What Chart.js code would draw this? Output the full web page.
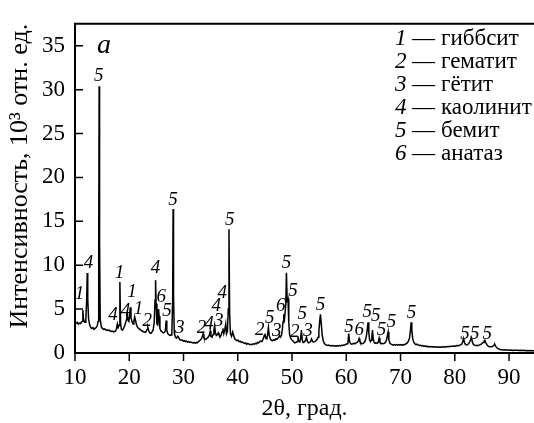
<!DOCTYPE html>
<html>
<head>
<meta charset="utf-8">
<script src="https://cdn.jsdelivr.net/npm/chart.js@4"></script>
<style>
  html, body { margin: 0; padding: 0; background: #fff; }
  #wrap { width: 534px; height: 423px; }
</style>
</head>
<body>
<div id="wrap"><canvas id="xrd" width="534" height="423"></canvas></div>
<script>
// XRD pattern, sample "a": [2theta, intensity x10^3]
const scan10to20 = [
  [10.0,3.6],[10.2,3.4],[10.4,3.5],[10.6,3.3],[10.8,3.4],[11.0,3.35],[11.15,3.5],[11.3,3.6],[11.45,4.9],[11.55,3.9],
  [11.7,3.6],[11.85,3.5],[12.0,3.8],[12.15,6.0],[12.25,9.1],[12.35,6.2],[12.5,3.9],[12.7,3.2],[12.9,2.9],[13.1,2.8],
  [13.3,2.9],[13.5,2.7],[13.7,2.8],[13.9,2.9],[14.1,3.1],[14.25,3.6],[14.37,12.0],[14.45,30.4],[14.53,12.5],[14.65,3.8],
  [14.85,3.0],[15.05,2.8],[15.3,2.7],[15.5,2.75],[15.7,2.6],[15.9,2.65],[16.1,2.55],[16.3,2.6],[16.5,2.5],[16.7,2.45],
  [16.9,2.5],[17.1,2.4],[17.3,2.45],[17.5,2.5],[17.65,2.8],[17.8,3.3],[17.95,2.9],[18.15,3.2],[18.27,8.1],[18.4,3.4],
  [18.55,2.7],[18.75,2.6],[18.95,2.8],[19.15,3.1],[19.35,3.5],[19.5,3.8],[19.65,4.4],[19.8,3.7],[19.92,3.6]
]
const scan20to30 = [
  [20.05,4.1],[20.18,5.2],[20.32,4.0],[20.5,3.6],[20.7,3.3],[20.85,3.6],[21.0,4.1],[21.15,3.7],[21.35,3.2],[21.55,2.9],
  [21.75,2.8],[21.95,2.7],[22.15,2.6],[22.35,2.5],[22.55,2.45],[22.75,2.4],[22.95,2.35],[23.15,2.5],[23.3,2.7],[23.43,2.9],
  [23.6,2.5],[23.8,2.3],[24.0,2.25],[24.2,2.4],[24.4,2.6],[24.6,3.5],[24.75,6.0],[24.85,8.3],[24.95,5.6],[25.1,3.3],
  [25.25,3.2],[25.4,5.0],[25.5,4.2],[25.65,2.8],[25.85,2.5],[26.05,2.4],[26.25,2.3],[26.45,2.35],[26.65,2.5],[26.8,3.7],
  [26.92,2.6],[27.1,2.2],[27.3,2.1],[27.5,2.0],[27.7,2.05],[27.85,2.3],[28.0,6.0],[28.08,16.4],[28.16,6.5],[28.3,2.3],
  [28.5,1.8],[28.7,1.7],[28.95,1.9],[29.15,1.7],[29.35,1.5],[29.55,1.45],[29.75,1.5],[29.95,1.35]
]
const scan30to50 = [
  [30.15,1.4],[30.35,1.3],[30.55,1.35],[30.75,1.25],[30.95,1.3],[31.15,1.2],[31.35,1.25],[31.55,1.2],[31.75,1.15],[31.95,1.2],
  [32.15,1.1],[32.35,1.2],[32.55,1.15],[32.75,1.3],[32.95,1.4],[33.15,1.5],[33.35,1.7],[33.5,1.9],[33.6,2.2],[33.75,1.8],
  [33.95,1.6],[34.15,1.55],[34.35,1.7],[34.55,1.8],[34.75,2.0],[34.92,2.5],[35.05,1.9],[35.25,1.8],[35.45,2.1],[35.6,2.6],
  [35.74,3.1],[35.88,2.3],[36.05,2.0],[36.25,2.1],[36.4,2.3],[36.53,2.1],[36.7,1.8],[36.9,2.0],[37.1,2.4],[37.27,2.8],
  [37.42,2.2],[37.6,2.6],[37.78,3.3],[37.92,2.2],[38.1,2.5],[38.25,5.0],[38.38,14.1],[38.5,4.5],[38.65,2.2],[38.85,1.9],
  [39.05,2.4],[39.25,2.0],[39.45,1.6],[39.65,1.5],[39.85,1.4],[40.05,1.45],[40.25,1.3],[40.45,1.35],[40.65,1.2],[40.85,1.25],
  [41.05,1.15],[41.25,1.1],[41.45,1.15],[41.65,1.0],[41.85,1.1],[42.05,1.0],[42.25,0.95],[42.45,1.0],[42.65,0.95],[42.85,1.05],
  [43.05,1.0],[43.25,1.1],[43.45,1.05],[43.65,1.2],[43.85,1.15],[44.05,1.3],[44.25,1.35],[44.45,1.3],[44.6,1.5],[44.75,1.7],
  [44.88,2.0],[45.0,2.2],[45.15,1.7],[45.35,1.6],[45.5,2.1],[45.65,2.9],[45.8,2.0],[46.0,1.6],[46.2,1.45],[46.4,1.4],
  [46.6,1.5],[46.8,1.45],[47.0,1.6],[47.2,1.55],[47.4,1.7],[47.55,1.8],[47.7,2.0],[47.85,1.8],[48.05,2.0],[48.2,2.6],
  [48.35,3.6],[48.48,4.4],[48.62,3.9],[48.85,5.5],[48.97,9.15],[49.1,6.0],[49.26,6.2],[49.4,3.5],[49.55,2.1],[49.75,1.7],
  [49.95,1.5]
]
const scan50to70 = [
  [50.15,1.4],[50.35,1.25],[50.55,1.15],[50.75,1.2],[50.95,1.3],[51.1,1.9],[51.25,1.3],[51.45,1.25],[51.6,1.7],[51.73,2.6],
  [51.88,1.5],[52.05,1.2],[52.25,1.25],[52.45,1.4],[52.66,1.8],[52.85,1.3],[53.05,1.15],[53.25,1.2],[53.45,1.35],[53.6,1.6],
  [53.8,1.3],[54.0,1.25],[54.2,1.3],[54.4,1.4],[54.6,1.5],[54.8,1.8],[54.95,2.5],[55.1,3.6],[55.24,4.4],[55.38,3.4],
  [55.55,2.1],[55.75,1.4],[55.95,1.1],[56.15,0.95],[56.35,0.9],[56.55,0.85],[56.75,0.9],[56.95,0.82],[57.15,0.85],[57.35,0.8],
  [57.55,0.85],[57.75,0.8],[57.95,0.82],[58.15,0.78],[58.35,0.85],[58.55,0.8],[58.75,0.85],[58.95,0.82],[59.15,0.88],[59.35,0.85],
  [59.55,0.9],[59.75,0.92],[59.95,1.0],[60.15,1.05],[60.3,1.2],[60.46,2.2],[60.6,1.3],[60.8,1.05],[61.0,1.0],[61.2,1.05],
  [61.4,1.1],[61.6,1.05],[61.8,1.15],[62.0,1.2],[62.2,1.35],[62.36,1.65],[62.5,1.35],[62.7,1.15],[62.9,1.05],[63.1,1.1],
  [63.3,1.2],[63.5,1.4],[63.7,1.9],[63.85,2.6],[64.02,3.5],[64.15,2.3],[64.3,1.5],[64.45,1.3],[64.6,1.45],[64.72,1.9],
  [64.83,2.6],[64.97,1.6],[65.15,1.2],[65.35,1.1],[65.55,1.15],[65.75,1.1],[65.9,1.25],[66.05,1.7],[66.2,1.2],[66.4,1.05],
  [66.6,1.1],[66.8,1.05],[67.0,1.1],[67.2,1.2],[67.4,1.45],[67.55,1.9],[67.71,2.4],[67.85,1.5],[68.05,1.1],[68.25,1.0],
  [68.45,0.95],[68.65,0.9],[68.85,0.95],[69.05,0.9],[69.25,0.95],[69.45,0.9],[69.65,0.95],[69.85,0.9]
]
const scan70to95 = [
  [70.05,0.95],[70.25,0.9],[70.45,0.95],[70.65,0.92],[70.85,1.0],[71.05,1.05],[71.25,1.15],[71.45,1.35],[71.65,1.7],[71.82,2.5],
  [71.95,3.5],[72.08,2.6],[72.25,1.6],[72.45,1.2],[72.65,1.05],[72.85,0.95],[73.05,1.0],[73.25,0.9],[73.45,0.85],[73.65,0.9],
  [73.85,0.8],[74.05,0.85],[74.25,0.78],[74.45,0.8],[74.65,0.75],[74.85,0.78],[75.05,0.72],[75.25,0.75],[75.45,0.7],[75.65,0.74],
  [75.85,0.68],[76.05,0.72],[76.25,0.68],[76.45,0.7],[76.65,0.66],[76.85,0.7],[77.05,0.65],[77.25,0.68],[77.45,0.66],[77.65,0.7],
  [77.85,0.68],[78.05,0.72],[78.25,0.68],[78.45,0.72],[78.65,0.75],[78.85,0.72],[79.05,0.76],[79.25,0.74],[79.45,0.78],[79.65,0.76],
  [79.85,0.8],[80.05,0.78],[80.25,0.82],[80.45,0.85],[80.65,0.82],[80.85,0.88],[81.05,0.92],[81.25,1.0],[81.45,1.25],[81.62,1.65],
  [81.78,1.2],[81.95,0.98],[82.15,0.92],[82.35,0.96],[82.55,1.05],[82.75,1.25],[82.92,1.5],[83.08,1.75],[83.22,1.3],[83.4,1.0],
  [83.6,0.9],[83.8,0.85],[84.0,0.88],[84.2,0.84],[84.4,0.88],[84.6,0.92],[84.8,0.98],[85.0,1.08],[85.2,1.2],[85.38,1.35],
  [85.55,1.45],[85.7,1.2],[85.9,0.95],[86.1,0.8],[86.3,0.74],[86.5,0.7],[86.7,0.7],[86.9,0.74],[87.1,0.8],[87.25,0.9],
  [87.4,0.95],[87.55,0.75],[87.75,0.6],[87.95,0.5],[88.15,0.45],[88.35,0.4],[88.6,0.38],[88.9,0.35],[89.2,0.37],[89.5,0.33],
  [89.8,0.35],[90.1,0.32],[90.4,0.34],[90.7,0.3],[91.0,0.32],[91.3,0.3],[91.6,0.31],[91.9,0.28],[92.2,0.3],[92.5,0.28],
  [92.8,0.3],[93.1,0.27],[93.4,0.29],[93.7,0.27],[94.0,0.28],[94.3,0.26],[94.6,0.27]
]

// peak markers: position (2theta), height of the label, phase number
const peakAngle = [10.83, 12.5, 14.4, 17.0, 18.2, 19.3, 20.5, 21.7, 23.3, 24.85, 25.9, 26.95, 28.05, 29.3,
  33.3, 34.7, 36.5, 36.05, 37.15, 38.5, 44.05, 45.9, 47.2, 47.9, 48.97, 50.2, 50.5, 51.9, 52.95, 55.24,
  60.5, 62.4, 63.85, 65.45, 66.5, 68.35, 72.03, 81.9, 83.7, 86.0]
const peakLevel = [6.77, 10.25, 31.5, 4.3, 9.1, 4.75, 6.9, 5.05, 3.66, 9.7, 6.4, 4.8, 17.4, 2.9,
  2.9, 3.3, 3.6, 5.3, 6.8, 15.1, 2.6, 3.95, 2.5, 5.3, 10.25, 7.1, 2.4, 4.4, 2.56, 5.5,
  3.0, 2.6, 4.65, 4.2, 2.6, 3.5, 4.6, 2.2, 2.2, 2.2]
const peakPhase = ["1", "4", "5", "4", "1", "4", "1", "1", "2", "4", "6", "5", "5", "3",
  "2", "4", "3", "4", "4", "5", "2", "5", "3", "6", "5", "5", "2", "5", "3", "5",
  "5", "6", "5", "5", "5", "5", "5", "5", "5", "5"]

const phaseNumbers = ["1", "2", "3", "4", "5", "6"]
const phaseNames = ["гиббсит", "гематит", "гётит", "каолинит", "бемит", "анатаз"]

const xTicks = [10, 20, 30, 40, 50, 60, 70, 80, 90]
const yTicks = [0, 5, 10, 15, 20, 25, 30, 35]

const serif = '"Liberation Serif", "Times New Roman", serif'
const scan = [...scan10to20, ...scan20to30, ...scan30to50, ...scan50to70, ...scan70to95]

// frame, tick marks, phase labels and legend
const annotations = {
  id: "annotations",
  afterDraw(chart) {
    const { ctx, chartArea, scales } = chart
    const { left, right, top, bottom } = chartArea
    ctx.save()
    ctx.strokeStyle = "#000"
    ctx.lineWidth = 2
    ctx.beginPath()
    ctx.moveTo(right, top)
    ctx.lineTo(left, top)
    ctx.lineTo(left, bottom)
    ctx.lineTo(right, bottom)
    ctx.stroke()

    ctx.lineWidth = 1.5
    ctx.beginPath()
    xTicks.forEach((v) => {
      const px = scales.x.getPixelForValue(v)
      ctx.moveTo(px, bottom)
      ctx.lineTo(px, bottom + 8)
    })
    yTicks.forEach((v) => {
      if (v === 0) return
      const py = scales.y.getPixelForValue(v)
      ctx.moveTo(left, py)
      ctx.lineTo(left + 8, py)
    })
    ctx.stroke()

    ctx.fillStyle = "#000"
    ctx.textAlign = "center"
    ctx.textBaseline = "middle"
    ctx.font = `italic 19px ${serif}`
    peakAngle.forEach((a, i) => {
      ctx.fillText(peakPhase[i], scales.x.getPixelForValue(a), scales.y.getPixelForValue(peakLevel[i]))
    })

    ctx.font = `italic 28px ${serif}`
    ctx.fillText("a", left + 29, top + 22)

    ctx.textAlign = "left"
    phaseNames.forEach((name, i) => {
      const py = top + 15 + i * 23
      ctx.font = `italic 23px ${serif}`
      ctx.fillText(phaseNumbers[i], 395, py)
      ctx.font = `23px ${serif}`
      ctx.fillText("—", 412, py)
      ctx.fillText(name, 441, py)
    })
    ctx.restore()
  },
}

new Chart(document.getElementById("xrd"), {
  type: "line",
  data: {
    datasets: [
      {
        data: scan.map(([a, v]) => ({ x: a, y: v })),
        borderColor: "#000",
        borderWidth: 1.5,
        pointRadius: 0,
        tension: 0,
        fill: false,
      },
    ],
  },
  options: {
    responsive: false,
    animation: false,
    devicePixelRatio: 1,
    layout: { padding: { top: 12, right: 0, left: 0, bottom: 0 } },
    plugins: { legend: { display: false }, tooltip: { enabled: false } },
    scales: {
      x: {
        type: "linear",
        min: 10,
        max: 94.6,
        afterFit: (s) => { s.height = 70 },
        afterBuildTicks: (s) => { s.ticks = xTicks.map((v) => ({ value: v })) },
        grid: { display: false, drawTicks: false },
        border: { display: false },
        ticks: { color: "#000", font: { family: serif, size: 23 }, padding: 11, maxRotation: 0, autoSkip: false },
        title: { display: true, text: "2θ, град.", color: "#000", font: { family: serif, size: 24 }, padding: { top: 0, bottom: 0 } },
      },
      y: {
        min: 0,
        max: 37.5,
        afterFit: (s) => { s.width = 75 },
        afterBuildTicks: (s) => { s.ticks = yTicks.map((v) => ({ value: v })) },
        grid: { display: false, drawTicks: false },
        border: { display: false },
        ticks: { color: "#000", font: { family: serif, size: 23 }, padding: 10 },
        title: { display: true, align: "end", text: "Интенсивность, 10³ отн. ед.", color: "#000", font: { family: serif, size: 26 }, padding: { top: 5, bottom: 0 } },
      },
    },
  },
  plugins: [annotations],
})
</script>
</body>
</html>
